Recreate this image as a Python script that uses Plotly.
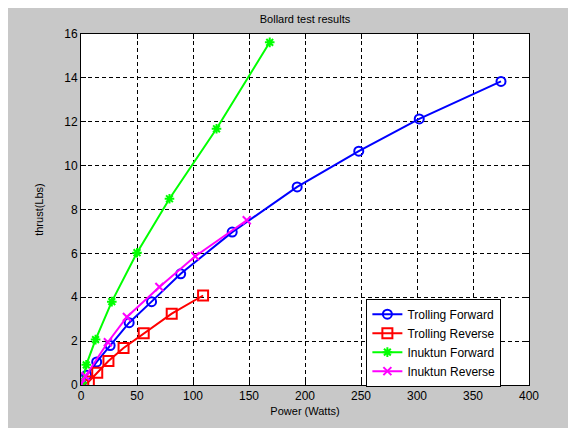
import plotly.graph_objects as go

tf_x = [0, 5, 14, 26, 43, 63, 89, 135, 193, 248, 302, 375]
tf_y = [0.05, 0.45, 1.05, 1.8, 2.84, 3.8, 5.07, 6.97, 9.03, 10.66, 12.13, 13.84]
tr_x = [2, 7, 14.5, 24.5, 38, 56, 81, 109]
tr_y = [0.0, 0.16, 0.56, 1.09, 1.69, 2.36, 3.25, 4.08]
if_x = [1, 4.7, 13, 27.5, 50, 79, 121, 168.5]
if_y = [0.1, 0.92, 2.07, 3.8, 6.03, 8.49, 11.68, 15.62]
ir_x = [0, 4, 24, 41, 70, 102, 148]
ir_y = [0.05, 0.4, 1.95, 3.1, 4.47, 5.87, 7.51]

names = ["Trolling Forward", "Trolling Reverse", "Inuktun Forward", "Inuktun Reverse"]
colors = ["#0000ff", "#ff0000", "#00ff00", "#ff00ff"]
symbols = ["circle-open", "square-open", "asterisk-open", "x-thin-open"]
sizes = [9, 10, 8, 8]
xs = [tf_x, tr_x, if_x, ir_x]
ys = [tf_y, tr_y, if_y, ir_y]

fig = go.Figure()
for n, c, s, sz, x, y in zip(names, colors, symbols, sizes, xs, ys):
    fig.add_trace(go.Scatter(
        x=x, y=y, name=n, mode="lines+markers",
        line=dict(color=c, width=2),
        marker=dict(symbol=s, size=sz, color=c, line=dict(color=c, width=2)),
    ))

font = "Liberation Sans, Arial, sans-serif"
axis_common = dict(
    showline=True, linecolor="black", linewidth=1, mirror="ticks",
    ticks="inside", ticklen=5, tickcolor="black",
    showgrid=True, gridcolor="black", gridwidth=1, griddash="4px,3px",
    zeroline=False, tickfont=dict(family=font, size=12, color="black"),
)

fig.update_layout(
    width=568, height=420,
    margin=dict(l=73, r=47, t=26, b=43),
    paper_bgcolor="#c8c8c8", plot_bgcolor="white",
    title=dict(text="Bollard test results", x=0.5, xref="paper", xanchor="center",
               y=1 - 11 / 420, yanchor="middle",
               font=dict(family=font, size=11, color="black")),
    xaxis=dict(range=[0, 400], tickvals=[0, 50, 100, 150, 200, 250, 300, 350, 400],
               title=dict(text="Power (Watts)", standoff=4,
                          font=dict(family=font, size=11, color="black")),
               **axis_common),
    yaxis=dict(range=[0, 16], tickvals=[0, 2, 4, 6, 8, 10, 12, 14, 16],
               **axis_common),
    legend=dict(x=0.637, y=0.246, xanchor="left", yanchor="top",
                bgcolor="white", bordercolor="black", borderwidth=1,
                font=dict(family=font, size=12, color="black"),
                tracegroupgap=0, itemwidth=30),
    annotations=[dict(text="thrust(Lbs)", textangle=-90, xref="paper", yref="paper",
                      x=-42.7 / 448, y=0.5, xanchor="center", yanchor="middle",
                      showarrow=False, font=dict(family=font, size=11, color="black"))],
    showlegend=True,
)

fig.write_html("out.html")
